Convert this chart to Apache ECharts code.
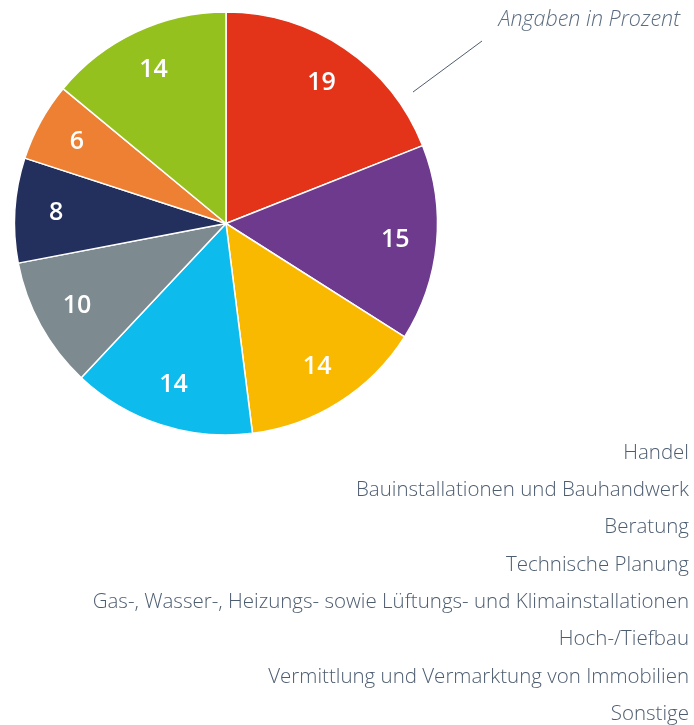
<!DOCTYPE html>
<html>
<head>
<meta charset="utf-8">
<script src="https://cdn.jsdelivr.net/npm/echarts@6/dist/echarts.min.js"></script>
<style>
  html, body { margin: 0; padding: 0; background: #fff; }
  #chart { width: 694px; height: 725px; }
</style>
</head>
<body>
<div id="chart"></div>
<script>
const categories = [
  "Handel",
  "Bauinstallationen und Bauhandwerk",
  "Beratung",
  "Technische Planung",
  "Gas-, Wasser-, Heizungs- sowie Lüftungs- und Klimainstallationen",
  "Hoch-/Tiefbau",
  "Vermittlung und Vermarktung von Immobilien",
  "Sonstige"
];
const shares = [19, 15, 14, 14, 10, 8, 6, 14];
const colors = ["#e3341a", "#6e3a8e", "#f9b900", "#0dbbed", "#7d8a8f", "#232f5c", "#ee8033", "#95c11f"];

const textColor = "#4d5d70";

let chart = echarts.init(document.getElementById("chart"), null, { renderer: "canvas" });

const pieData = categories.map((name, i) => ({
  name: name,
  value: shares[i],
  itemStyle: { color: colors[i] }
}));
const labelData = categories.map((name, i) => ({ name: name, value: shares[i] }));

const center = [226, 223.5];
const radius = 211.5;

chart.setOption({
  animation: false,
  title: {
    text: "Angaben in Prozent",
    right: 14,
    top: 9,
    padding: 0,
    textStyle: {
      fontFamily: "Open Sans",
      fontStyle: "italic",
      fontWeight: 300,
      fontSize: 21.5,
      color: "#5c6d80"
    }
  },
  legend: {
    orient: "vertical",
    align: "right",
    right: -1,
    top: 442,
    height: 500,
    padding: 0,
    icon: "rect",
    itemWidth: 0,
    itemHeight: 20,
    itemGap: 15.3,
    selectedMode: false,
    data: categories,
    textStyle: {
      fontFamily: "Open Sans",
      fontWeight: 300,
      fontSize: 20.5,
      lineHeight: 20,
      color: textColor
    }
  },
  graphic: [{
    type: "line",
    shape: { x1: 413, y1: 92, x2: 482, y2: 41 },
    style: { stroke: "#4d5d70", lineWidth: 1 }
  }],
  series: [
    {
      type: "pie",
      center: center,
      radius: [0, radius],
      startAngle: 90,
      clockwise: true,
      silent: true,
      data: pieData,
      itemStyle: { borderColor: "#fff", borderWidth: 1.5 },
      label: { show: false },
      labelLine: { show: false }
    },
    {
      // label carrier: invisible ring so that inside labels sit near 0.8 r
      type: "pie",
      center: center,
      radius: [radius * 0.58, radius],
      startAngle: 90,
      clockwise: true,
      silent: true,
      data: labelData,
      itemStyle: { color: "rgba(0,0,0,0)", borderWidth: 0 },
      label: {
        show: true,
        position: "inside",
        formatter: "{c}",
        fontFamily: "Open Sans",
        fontWeight: 600,
        fontSize: 25,
        color: "#fff"
      },
      labelLine: { show: false }
    }
  ]
});
</script>
</body>
</html>
